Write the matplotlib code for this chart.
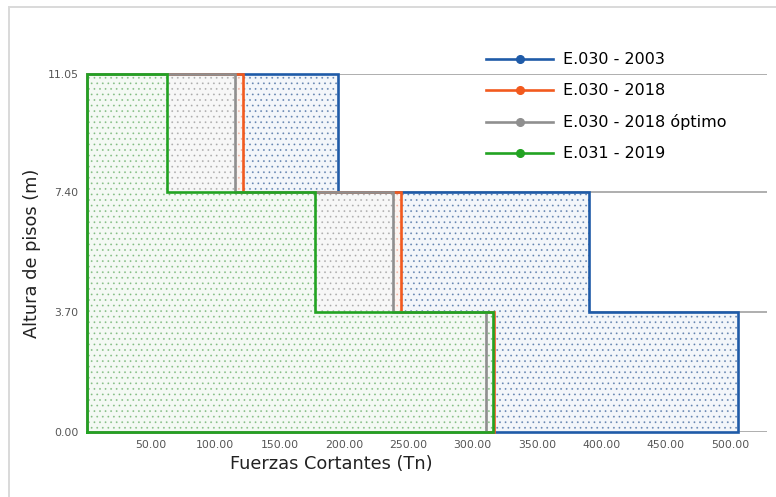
import matplotlib
matplotlib.use("Agg")
import matplotlib.pyplot as plt
from matplotlib.lines import Line2D
from matplotlib.patches import Rectangle

plt.rcParams['font.family'] = ['DejaVu Sans']
plt.rcParams['hatch.linewidth'] = 0.6

# Story heights (m) and shear forces per story (Tn), from ground to roof
alturas = [0.00, 3.70, 7.40, 11.05]
series = ["E.030 - 2003", "E.030 - 2018", "E.030 - 2018 óptimo", "E.031 - 2019"]
cortante_2003 = [506.4, 390.6, 195.6]
cortante_2018 = [316.2, 244.1, 121.7]
cortante_2018_opt = [310.0, 237.8, 115.3]
cortante_2019 = [315.8, 177.4, 62.6]
x_ticks = [50, 100, 150, 200, 250, 300, 350, 400, 450, 500]

valores = [cortante_2003, cortante_2018, cortante_2018_opt, cortante_2019]
colores = ["#1f5ba8", "#f25a1e", "#8f8f8f", "#22a322"]
rellenos = ["#f3f6fa", "#fbf5f2", "#f7f7f7", "#f4f9f4"]
puntos = [(0.12, 0.30, 0.55, 0.5), (0.9, 0.5, 0.4, 0.4),
          (0.45, 0.45, 0.45, 0.4), (0.25, 0.6, 0.25, 0.45)]

fig = plt.figure(figsize=(7.76, 4.97), dpi=100)
ax = fig.add_axes([0.1117, 0.1308, 0.988 - 0.1117, 0.851 - 0.1308])

# outer frame of the figure
fig.patches.append(Rectangle((8.5 / 776, -0.1), 1.2, 1 - 7 / 497 + 0.1,
                             transform=fig.transFigure, fill=False,
                             edgecolor="#d9d9d9", linewidth=1.4))

def perfil(v):
    xs = [0.0, v[0], v[0], v[1], v[1], v[2], v[2], 0.0, 0.0]
    ys = [alturas[0], alturas[0], alturas[1], alturas[1], alturas[2],
          alturas[2], alturas[3], alturas[3], alturas[0]]
    return xs, ys

for y in alturas:
    ax.axhline(y, color="#a8a8a8", linewidth=1.3, zorder=1)

for i, v in enumerate(valores):
    xs, ys = perfil(v)
    ax.fill(xs, ys, facecolor=rellenos[i], edgecolor=puntos[i],
            hatch="...", linewidth=0, zorder=2 + i)

for i, v in enumerate(valores):
    xs, ys = perfil(v)
    ax.plot(xs, ys, color=colores[i], linewidth=1.9, zorder=10 + i,
            solid_joinstyle="miter", clip_on=False)

ax.set_xlim(0, 528.5)
ax.set_ylim(0, 11.05)
ax.set_xticks(x_ticks)
ax.set_xticklabels([f"{t:.2f}" for t in x_ticks])
ax.set_yticks(alturas)
ax.set_yticklabels([f"{a:.2f}" for a in alturas])
ax.tick_params(axis="both", length=0, labelsize=7.8, colors="#555555")
ax.tick_params(axis="x", pad=6)
ax.tick_params(axis="y", pad=6)
for s in ax.spines.values():
    s.set_visible(False)

ax.set_xlabel("Fuerzas Cortantes (Tn)", fontsize=12.8, color="#222222")
ax.xaxis.set_label_coords((331 - 86.7) / 680, -(455 - 432) / 358, transform=ax.transAxes)
ax.set_ylabel("Altura de pisos (m)", fontsize=12.8, color="#222222")
ax.yaxis.set_label_coords(-(86.7 - 41) / 680, 0.5, transform=ax.transAxes)

handles = [Line2D([0], [0], color=c, linewidth=1.9, marker="o", markersize=5.5)
           for c in colores]
fig.legend(handles, series, loc="upper left",
           bbox_to_anchor=(480 / 776, 1 - 46 / 497), frameon=False,
           fontsize=11.5, handlelength=4.2, handletextpad=0.6,
           labelspacing=1.0, borderaxespad=0)

fig.savefig("out.png", dpi=100)
